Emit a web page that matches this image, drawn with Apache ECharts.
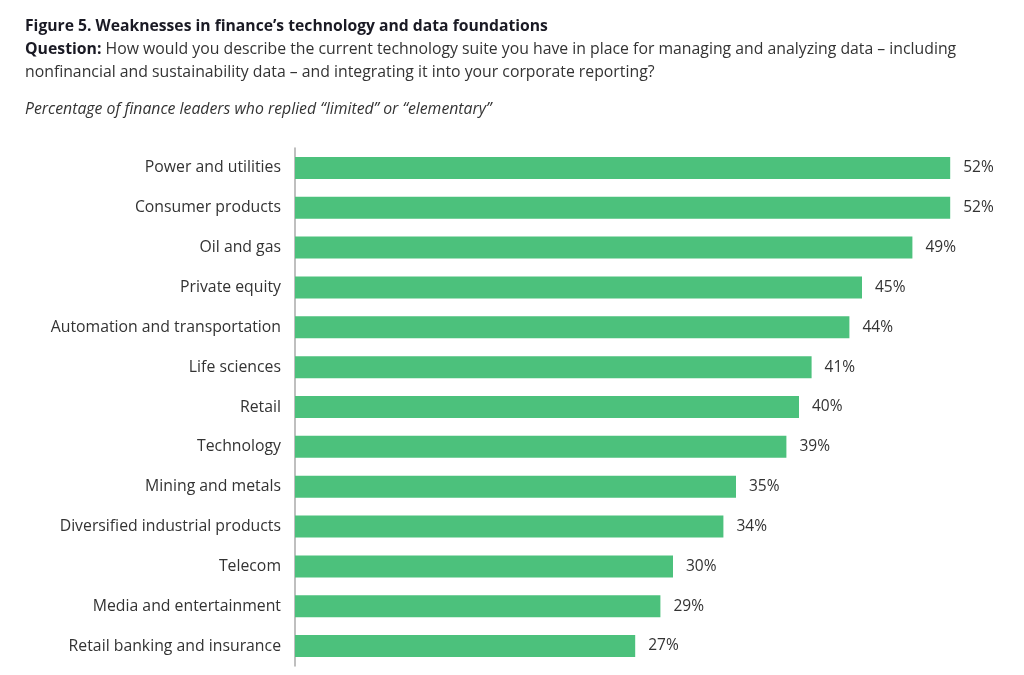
<!DOCTYPE html>
<html><head><meta charset="utf-8">
<script src="https://cdn.jsdelivr.net/npm/echarts@6/dist/echarts.min.js"></script>
<style>html,body{margin:0;padding:0;background:#fff}#c{width:1024px;height:675px}</style>
</head><body><div id="c"></div>
<script>
const categories = ["Power and utilities","Consumer products","Oil and gas","Private equity","Automation and transportation","Life sciences","Retail","Technology","Mining and metals","Diversified industrial products","Telecom","Media and entertainment","Retail banking and insurance"];
const values = [52,52,49,45,44,41,40,39,35,34,30,29,27];
const titleText = "Figure 5. Weaknesses in finance\u2019s technology and data foundations";
const questionLabel = "Question:";
const questionLine1 = " How would you describe the current technology suite you have in place for managing and analyzing data \u2013 including";
const questionLine2 = "nonfinancial and sustainability data \u2013 and integrating it into your corporate reporting?";
const noteText = "Percentage of finance leaders who replied \u201climited\u201d or \u201celementary\u201d";

const FONT = "Open Sans";
const chart = echarts.init(document.getElementById('c'));
chart.setOption({
  backgroundColor: '#fff',
  animation: false,
  graphic: [
    {type:'text', left:25, top:19, style:{text:titleText, font:'bold 15.7px "Open Sans"', fill:'#1a1a24'}},
    {type:'text', left:25, top:41, style:{
      text:'{b|'+questionLabel+'}{r|'+questionLine1+'}\n{r|'+questionLine2+'}',
      rich:{b:{font:'bold 15.8px "Open Sans"', fill:'#1a1a24', lineHeight:23}, r:{font:'15.8px "Open Sans"', fill:'#333', lineHeight:23}}
    }},
    {type:'text', left:25, top:101, style:{text:noteText, font:'italic 15.8px "Open Sans"', fill:'#333'}}
  ],
  grid: {left:295, top:148, width:693, height:518, containLabel:false},
  xAxis: {type:'value', min:0, max:55, show:false},
  yAxis: {type:'category', data:categories, inverse:true,
    axisLine:{show:true, lineStyle:{color:'#aaaaaa', width:1.5}},
    axisTick:{show:false},
    axisLabel:{fontFamily:FONT, fontSize:15.8, color:'#333', margin:14}},
  series: [{type:'bar', data:values, barWidth:22, itemStyle:{color:'#4cc17c'},
    label:{show:true, position:'right', distance:13, formatter:'{c}%', fontFamily:FONT, fontSize:15.5, color:'#333'}}]
});
</script></body></html>
